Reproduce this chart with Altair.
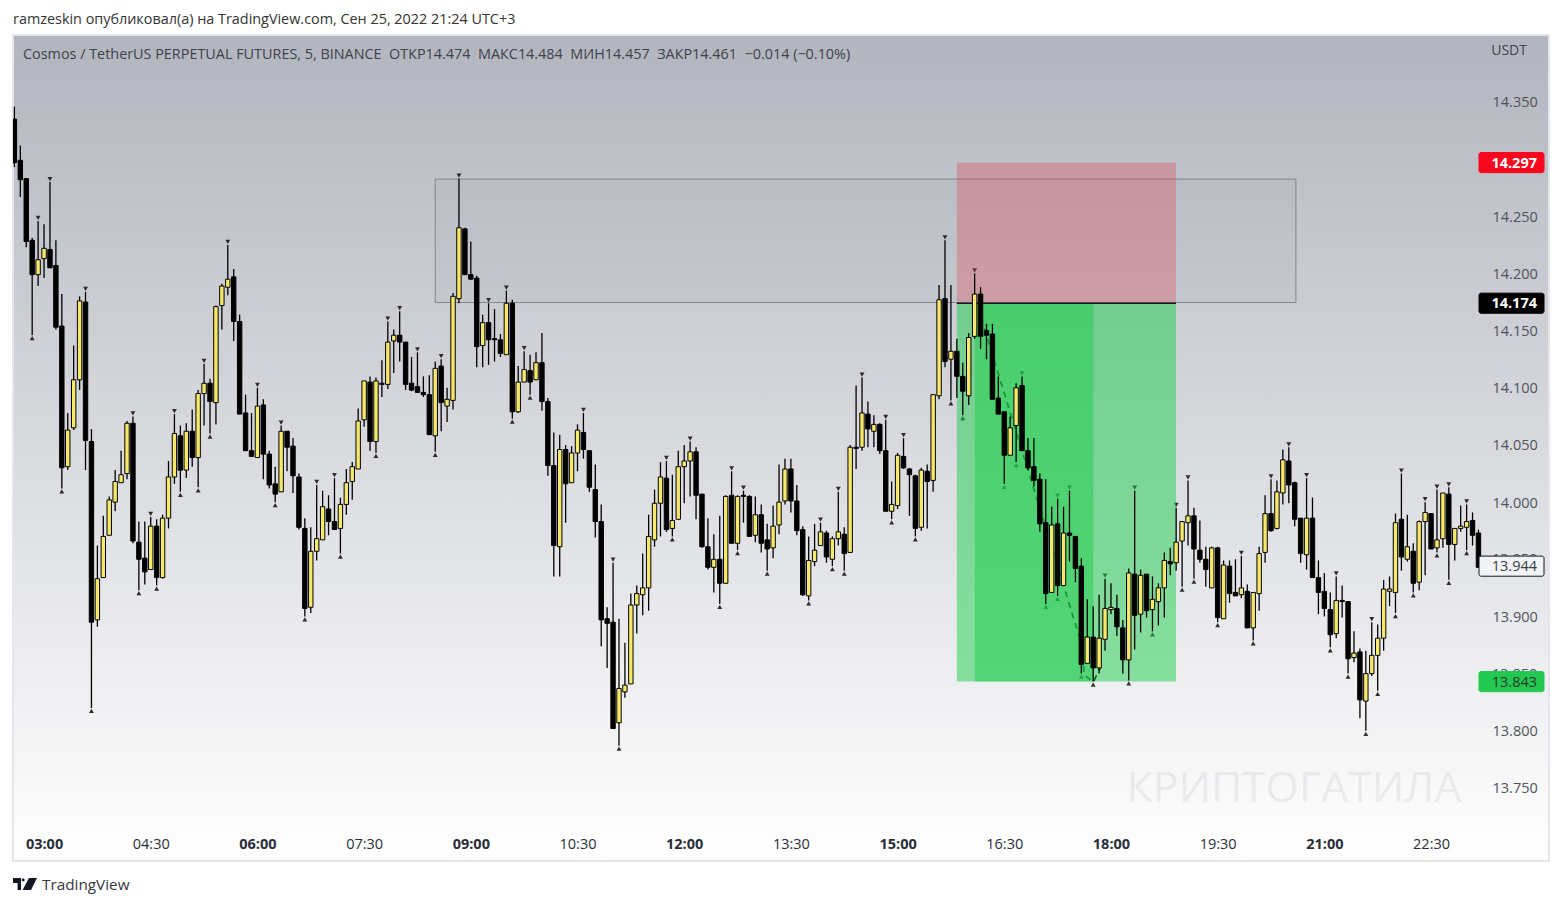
import altair as alt
import pandas as pd

FONT = "Open Sans"

opens = [
 14.335,14.299,14.283,14.229,14.199,14.213,14.221,14.207,14.154,14.031,
 14.065,14.107,14.175,14.053,13.897,13.934,13.971,14.000,14.017,14.025,
 14.069,13.965,13.951,13.941,13.979,13.934,13.986,14.022,14.058,14.028,
 14.062,14.039,14.095,14.104,14.087,14.172,14.188,14.197,14.158,14.078,
 14.045,14.039,14.085,14.042,14.016,14.009,14.062,14.049,14.022,13.977,
 13.908,13.957,13.967,13.994,13.983,13.977,13.998,14.018,14.029,14.072,
 14.105,14.053,14.104,14.103,14.141,14.146,14.140,14.104,14.101,14.096,
 14.094,14.058,14.119,14.084,14.089,14.178,14.239,14.199,14.196,14.137,
 14.157,14.143,14.142,14.129,14.174,14.079,14.105,14.115,14.107,14.122,
 14.088,14.032,13.961,14.046,14.017,14.043,14.061,14.045,14.011,13.983,
 13.898,13.895,13.807,13.834,13.841,13.910,13.919,13.925,13.967,13.999,
 14.021,13.977,13.985,14.031,14.036,14.044,14.007,13.961,13.943,13.950,
 13.929,14.006,13.964,14.006,14.005,13.971,13.989,13.967,13.960,13.980,
 14.001,14.029,14.001,13.976,13.918,13.948,13.962,13.973,13.950,13.968,
 13.972,13.956,14.048,14.048,14.077,14.062,14.068,14.045,13.992,13.997,
 14.040,14.029,14.023,13.978,14.027,14.019,14.093,14.178,14.125,14.132,
 14.110,14.093,14.145,14.182,14.150,14.147,14.091,14.079,14.041,14.067,
 14.102,14.045,14.031,14.020,13.982,13.921,13.981,13.927,13.973,13.970,
 13.944,13.859,13.882,13.855,13.880,13.906,13.907,13.890,13.862,13.937,
 13.902,13.937,13.906,13.913,13.925,13.948,13.947,13.966,13.982,13.988,
 13.958,13.950,13.925,13.960,13.898,13.944,13.921,13.919,13.922,13.890,
 13.920,13.956,13.990,13.977,14.008,14.036,14.017,13.986,13.954,13.986,
 13.934,13.922,13.906,13.885,13.914,13.913,13.864,13.869,13.826,13.850,
 13.866,13.881,13.922,13.921,13.985,13.950,13.957,13.930,13.983,13.990,
 13.960,13.968,14.007,13.963,13.977,13.978,13.984,13.973,
]
closes = [
 14.297,14.282,14.228,14.199,14.212,14.222,14.205,14.153,14.030,14.063,
 14.107,14.176,14.054,13.895,13.933,13.970,14.002,14.018,14.024,14.069,
 13.966,13.950,13.939,13.979,13.934,13.986,14.022,14.060,14.028,14.062,
 14.039,14.095,14.104,14.088,14.171,14.189,14.195,14.158,14.077,14.045,
 14.040,14.084,14.042,14.015,14.007,14.062,14.048,14.023,13.978,13.907,
 13.957,13.968,13.996,13.983,13.976,13.998,14.017,14.031,14.071,14.106,
 14.053,14.106,14.103,14.140,14.146,14.140,14.103,14.098,14.096,14.094,
 14.059,14.117,14.087,14.090,14.180,14.240,14.199,14.195,14.136,14.157,
 14.142,14.142,14.130,14.174,14.079,14.105,14.116,14.105,14.122,14.088,
 14.032,13.962,14.046,14.016,14.043,14.063,14.046,14.013,13.983,13.897,
 13.894,13.802,13.837,13.840,13.910,13.920,13.925,13.970,13.999,14.022,
 13.976,13.984,14.031,14.036,14.044,14.006,13.961,13.943,13.950,13.929,
 14.005,13.964,14.005,14.005,13.970,13.989,13.964,13.959,13.979,14.000,
 14.029,14.001,13.975,13.919,13.949,13.958,13.974,13.952,13.968,13.974,
 13.955,14.048,14.047,14.078,14.064,14.068,14.045,13.992,13.998,14.041,
 14.030,14.024,13.977,14.028,14.018,14.094,14.177,14.123,14.132,14.110,
 14.097,14.144,14.182,14.145,14.146,14.090,14.077,14.041,14.065,14.100,
 14.045,14.030,14.019,13.981,13.920,13.980,13.927,13.973,13.971,13.942,
 13.858,13.882,13.855,13.881,13.907,13.908,13.891,13.862,13.938,13.901,
 13.936,13.905,13.915,13.925,13.949,13.946,13.965,13.983,13.988,13.959,
 13.950,13.941,13.960,13.899,13.945,13.920,13.918,13.925,13.890,13.921,
 13.955,13.990,13.975,14.009,14.037,14.015,13.985,13.955,13.986,13.934,
 13.921,13.907,13.884,13.914,13.913,13.863,13.868,13.827,13.850,13.866,
 13.881,13.924,13.924,13.982,13.952,13.961,13.929,13.983,13.991,13.959,
 13.967,14.008,13.963,13.977,13.979,13.983,13.971,13.943,
]
highs = [
 14.346,14.312,14.283,14.231,14.246,14.243,14.280,14.229,14.182,14.078,
 14.137,14.180,14.184,14.064,13.962,13.988,14.005,14.028,14.045,14.071,
 14.075,13.983,13.983,13.987,13.985,13.989,14.036,14.077,14.067,14.069,
 14.081,14.098,14.121,14.108,14.172,14.191,14.225,14.204,14.164,14.094,
 14.078,14.100,14.090,14.045,14.031,14.067,14.062,14.056,14.025,13.986,
 13.978,14.015,14.010,14.006,14.021,14.004,14.029,14.035,14.082,14.106,
 14.110,14.109,14.124,14.158,14.151,14.167,14.140,14.127,14.131,14.110,
 14.111,14.123,14.125,14.100,14.183,14.283,14.240,14.228,14.198,14.164,
 14.174,14.169,14.147,14.185,14.177,14.119,14.132,14.129,14.131,14.148,
 14.091,14.061,14.059,14.050,14.049,14.068,14.078,14.045,14.033,13.998,
 13.908,13.947,13.898,13.877,13.920,13.927,13.955,13.989,14.011,14.035,
 14.036,14.024,14.045,14.050,14.053,14.048,14.007,13.986,13.972,13.988,
 14.006,14.027,14.006,14.010,14.006,14.005,13.998,13.981,13.997,14.033,
 14.038,14.038,14.015,13.979,13.970,13.981,13.982,13.975,13.970,14.009,
 13.978,14.050,14.102,14.109,14.088,14.076,14.069,14.072,14.018,14.043,
 14.056,14.030,14.024,14.030,14.033,14.094,14.190,14.229,14.190,14.143,
 14.122,14.148,14.200,14.188,14.156,14.156,14.110,14.079,14.075,14.104,
 14.110,14.056,14.056,14.025,14.020,13.996,14.003,13.996,14.010,13.970,
 13.951,13.915,13.909,13.919,13.933,13.929,13.919,13.897,13.942,14.010,
 13.941,13.937,13.935,13.929,13.956,13.960,13.995,13.983,14.019,13.995,
 13.984,13.961,13.961,13.961,13.949,13.949,13.950,13.953,13.928,13.921,
 13.961,14.006,14.020,14.019,14.046,14.048,14.018,13.986,14.021,14.004,
 13.949,13.938,13.921,13.935,13.927,13.913,13.887,13.872,13.870,13.895,
 13.893,13.932,13.935,13.990,14.025,13.989,13.964,13.984,14.000,13.990,
 14.011,14.008,14.013,13.977,13.997,13.998,13.991,13.976,
]
lows = [
 14.293,14.267,14.223,14.146,14.189,14.196,14.205,14.151,14.012,14.028,
 14.063,14.098,14.028,13.820,13.891,13.934,13.971,13.992,14.017,14.020,
 13.964,13.923,13.928,13.941,13.927,13.933,13.977,14.016,14.009,14.021,
 14.031,14.013,14.067,14.060,14.068,14.151,14.181,14.141,14.077,14.045,
 14.040,14.039,14.020,14.012,14.000,14.009,14.027,14.008,13.976,13.900,
 13.903,13.949,13.967,13.971,13.976,13.955,13.989,14.002,14.029,14.066,
 14.045,14.043,14.092,14.099,14.113,14.123,14.098,14.097,14.096,14.092,
 14.059,14.044,14.062,14.070,14.081,14.174,14.199,14.195,14.118,14.118,
 14.120,14.123,14.127,14.129,14.073,14.078,14.105,14.094,14.107,14.080,
 14.023,13.935,13.935,13.982,14.017,14.027,14.038,14.009,13.969,13.874,
 13.855,13.802,13.787,13.829,13.841,13.885,13.901,13.905,13.961,13.970,
 13.974,13.970,13.985,13.999,14.005,13.985,13.960,13.941,13.921,13.911,
 13.929,13.964,13.958,13.982,13.970,13.965,13.956,13.940,13.951,13.972,
 13.998,13.991,13.971,13.918,13.914,13.944,13.962,13.947,13.944,13.962,
 13.940,13.956,14.029,14.045,14.048,14.048,14.042,13.992,13.985,13.994,
 14.029,13.988,13.970,13.975,13.977,14.009,14.090,14.118,14.089,14.091,
 14.076,14.085,14.143,14.134,14.125,14.090,14.077,14.016,14.041,14.035,
 14.045,14.028,14.014,13.974,13.911,13.921,13.918,13.927,13.948,13.930,
 13.850,13.859,13.843,13.850,13.870,13.902,13.883,13.850,13.844,13.871,
 13.886,13.899,13.887,13.892,13.899,13.936,13.940,13.926,13.962,13.933,
 13.947,13.926,13.925,13.895,13.898,13.912,13.918,13.916,13.890,13.879,
 13.905,13.947,13.974,13.976,13.998,13.999,13.979,13.947,13.941,13.934,
 13.902,13.900,13.873,13.881,13.899,13.850,13.860,13.811,13.800,13.848,
 13.835,13.870,13.909,13.903,13.940,13.948,13.921,13.923,13.936,13.959,
 13.956,13.960,13.932,13.949,13.974,13.958,13.962,13.943,
]
pivot_highs = [4,6,12,20,23,27,32,36,41,45,51,54,63,65,68,72,75,80,83,86,96,101,110,114,121,
               123,136,139,143,147,150,157,162,170,176,178,184,189,196,198,207,212,215,218,
               223,229,234,238,240,242,245]
pivot_lows = [3,8,13,21,24,28,31,33,44,49,55,61,71,84,87,102,111,119,122,127,134,138,140,148,
              152,158,160,167,169,174,176,180,182,188,192,197,199,203,209,222,225,228,230,
              233,236,240,242,245]

path_idx = [163.1, 179.95, 180.5, 182.0, 183.2]
path_price = [14.161, 13.8775, 13.849, 13.8425, 13.855]

zone_box = [71, 216.2, 14.2826, 14.1746]
trade_x = [159.0, 162.05, 182.05, 195.98]
trade_entry, trade_stop, trade_target = 14.174, 14.297, 13.843

y_ticks = [13.75, 13.80, 13.90, 14.00, 14.05, 14.10, 14.15, 14.20, 14.25, 14.35]
hidden_ticks = [13.85, 13.95]
x_ticks = [5, 23, 41, 59, 77, 95, 113, 131, 149, 167, 185, 203, 221, 239]
x_labels = ["03:00","04:30","06:00","07:30","09:00","10:30","12:00","13:30","15:00","16:30",
            "18:00","19:30","21:00","22:30"]

tags = [
    (14.297, "14.297", "#f7081f", "#f7081f", "#ffffff", "bold"),
    (14.174, "14.174", "#000000", "#000000", "#ffffff", "bold"),
    (13.944, "13.944", "#f2f3f5", "#131722", "#3a3d46", "normal"),
    (13.843, "13.843", "#22c84f", "#22c84f", "#2c3a30", "normal"),
]

WIDTH, HEIGHT = 1536, 826
Y_DOMAIN = [13.6861, 14.4086]
X_DOMAIN = [-0.236, 258.9]
xs = alt.Scale(domain=X_DOMAIN, nice=False, zero=False, padding=0)
ys = alt.Scale(domain=Y_DOMAIN, nice=False, zero=False, padding=0)


def X(field):
    return alt.X(field, scale=xs, title=None)


def Y(field):
    return alt.Y(field, scale=ys, title=None)


candles = pd.DataFrame({"i": range(len(opens)), "o": opens, "h": highs, "l": lows, "c": closes})
candles["top"] = candles[["o", "c"]].max(axis=1)
candles["bot"] = candles[["o", "c"]].min(axis=1)
up = candles[candles.c > candles.o]
down = candles[candles.c <= candles.o]

one = alt.Data(values=[{"a": 1}])


def note(text, x, y, size=14, color="#50535e", align="left", weight="normal", opacity=1):
    return alt.Chart(one).mark_text(text=text, align=align, baseline="middle", fontSize=size,
                                    color=color, fontWeight=weight, font=FONT, opacity=opacity).encode(
        x=alt.value(x), y=alt.value(y))


label_expr = "[" + ",".join(f"'{t}'" for t in x_labels) + "][(datum.value-5)/18]"
axes = alt.Chart(pd.DataFrame({"i": x_ticks, "p": [14.0] * len(x_ticks)})).mark_point(opacity=0).encode(
    x=alt.X("i:Q", scale=xs, title=None, axis=alt.Axis(
        values=x_ticks, labelExpr=label_expr, grid=False, domain=False, ticks=False, zindex=1,
        labelFont=FONT, labelFontSize=14.5, labelColor="#2a2e39", labelPadding=0, labelBaseline="middle",
        labelFontWeight={"expr": "(datum.value-5)%36==0 ? 'bold' : 'normal'"},
        offset=-17, labelOverlap=False)),
    y=alt.Y("p:Q", scale=ys, title=None, axis=alt.Axis(
        values=y_ticks, format=".3f", orient="right", grid=False, domain=False, ticks=False, zindex=1,
        labelFont=FONT, labelFontSize=14.5, labelColor="#50535e", labelPadding=0, labelAlign="left",
        labelBaseline="middle", labelOffset=1, offset=-57, labelOverlap=False)))

gradient = alt.Gradient(gradient="linear", x1=0, y1=0, x2=0, y2=1,
                        stops=[alt.GradientStop(offset=0, color="#b2b5be"),
                               alt.GradientStop(offset=1, color="#ffffff")])
background = alt.Chart(one).mark_rect(fill=gradient, stroke="#e4e6ec", strokeWidth=2).encode(
    x=alt.value(0), x2=alt.value(WIDTH), y=alt.value(0), y2=alt.value(HEIGHT))

watermark = note("КРИПТОГАТИЛА", 1281, 754, size=42.8, color="#787b86", align="center", opacity=0.1)

zone = alt.Chart(pd.DataFrame({"x": [zone_box[0]], "x2": [zone_box[1]], "y": [zone_box[2]], "y2": [zone_box[3]]})).mark_rect(
    fill="#787b86", fillOpacity=0.06, stroke="#7c7f88", strokeWidth=0.9).encode(
    x=X("x:Q"), x2="x2:Q", y=Y("y:Q"), y2="y2:Q")

mark_hi = alt.Chart(candles[candles.i.isin(pivot_highs)]).mark_point(
    shape="triangle-down", filled=True, size=24, color="#222222", opacity=0.95, yOffset=-3, clip=True).encode(
    x=X("i:Q"), y=Y("h:Q"))
mark_lo = alt.Chart(candles[candles.i.isin(pivot_lows)]).mark_point(
    shape="triangle-up", filled=True, size=24, color="#222222", opacity=0.95, yOffset=3, clip=True).encode(
    x=X("i:Q"), y=Y("l:Q"))

dash = alt.Chart(pd.DataFrame({"i": path_idx, "p": path_price})).mark_line(
    color="#000000", strokeWidth=1.8, strokeDash=[6, 5]).encode(
    x=X("i:Q"), y=Y("p:Q"), order="i:Q")

red = alt.Chart(pd.DataFrame({"x": [trade_x[0]], "x2": [trade_x[3]], "y": [trade_stop], "y2": [trade_entry]})).mark_rect(
    fill="rgb(226,56,70)", fillOpacity=0.3).encode(
    x=X("x:Q"), x2="x2:Q", y=Y("y:Q"), y2="y2:Q")
green = alt.Chart(pd.DataFrame({"x": [trade_x[0]], "x2": [trade_x[3]], "y": [trade_entry], "y2": [trade_target]})).mark_rect(
    fill="rgb(30,205,75)", fillOpacity=0.5).encode(
    x=X("x:Q"), x2="x2:Q", y=Y("y:Q"), y2="y2:Q")
green2 = alt.Chart(pd.DataFrame({"x": [trade_x[1]], "x2": [trade_x[2]], "y": [trade_entry], "y2": [trade_target]})).mark_rect(
    fill="rgb(30,205,75)", fillOpacity=0.5).encode(
    x=X("x:Q"), x2="x2:Q", y=Y("y:Q"), y2="y2:Q")
entry = alt.Chart(pd.DataFrame({"x": [trade_x[0]], "x2": [trade_x[3]], "y": [trade_entry]})).mark_rule(
    color="#131722", strokeWidth=1.5).encode(
    x=X("x:Q"), x2="x2:Q", y=Y("y:Q"))

wicks = alt.Chart(candles).mark_rule(color="#000000", strokeWidth=1.3, clip=True).encode(
    x=X("i:Q"), y=Y("h:Q"), y2="l:Q")
body_dn = alt.Chart(down).mark_bar(size=4.4, color="#000000", stroke="#000000", strokeWidth=1,
                                   orient="vertical", clip=True).encode(
    x=X("i:Q"), y=Y("top:Q"), y2="bot:Q")
body_up = alt.Chart(up).mark_bar(size=4.4, color="#f6e86a", stroke="#000000", strokeWidth=1,
                                 orient="vertical", clip=True).encode(
    x=X("i:Q"), y=Y("top:Q"), y2="bot:Q")

hidden = alt.Chart(pd.DataFrame({"p": hidden_ticks, "t": [f"{v:.3f}" for v in hidden_ticks]})).mark_text(
    align="left", baseline="middle", fontSize=14.5, color="#50535e", font=FONT, dy=1).encode(
    x=alt.value(WIDTH - 57), y=Y("p:Q"), text="t:N")

layers = [axes, background, watermark, zone, mark_hi, mark_lo, dash, red, green, green2, entry,
          wicks, body_dn, body_up, hidden]

for price, text, fill, stroke, ink, weight in tags:
    frame = pd.DataFrame({"p": [price], "a": [price + 0.0088], "b": [price - 0.0088], "t": [text]})
    layers.append(alt.Chart(frame).mark_rect(fill=fill, stroke=stroke, strokeWidth=1, cornerRadius=2).encode(
        x=alt.value(1466), x2=alt.value(1531), y=Y("a:Q"), y2="b:Q"))
    layers.append(alt.Chart(frame).mark_text(align="right", baseline="middle", fontSize=14.5, color=ink,
                                             fontWeight=weight, font=FONT, dy=1).encode(
        x=alt.value(1524), y=Y("p:Q"), text="t:N"))

NB = "\u00a0\u00a0"
layers += [
    note("ramzeskin опубликовал(а) на TradingView.com, Сен 25, 2022 21:24 UTC+3", 0, -15, size=14.4, color="#333333"),
    note(f"Cosmos / TetherUS PERPETUAL FUTURES, 5, BINANCE{NB}ОТКР14.474{NB}МАКС14.484{NB}МИН14.457{NB}ЗАКР14.461{NB}−0.014 (−0.10%)",
         10, 20, size=14.4, color="#3f424c"),
    note("USDT", 1514, 16, size=14, color="#3f424c", align="right"),
    alt.Chart(one).mark_point(
        shape="M-1 -.5 H-.33 V.5 H-.62 V-.08 H-1 Z M-.27 -.33 a.12 .12 0 1 0 .24 0 a.12 .12 0 1 0 -.24 0 Z M.33 -.5 H1 L.5 .5 H-.2 Z",
        filled=True, size=576, color="#131722", opacity=1).encode(x=alt.value(12), y=alt.value(849)),
    note("TradingView", 29, 850, size=15.3, color="#333842"),
]

chart = alt.layer(*layers).properties(
    width=WIDTH, height=HEIGHT,
    padding={"left": 5, "top": 27, "right": 5, "bottom": 35},
    autosize=alt.AutoSizeParams(type="none"),
    background="#ffffff",
).configure_view(stroke=None)

chart.save("out.html", embed_options={"renderer": "svg", "actions": False})
